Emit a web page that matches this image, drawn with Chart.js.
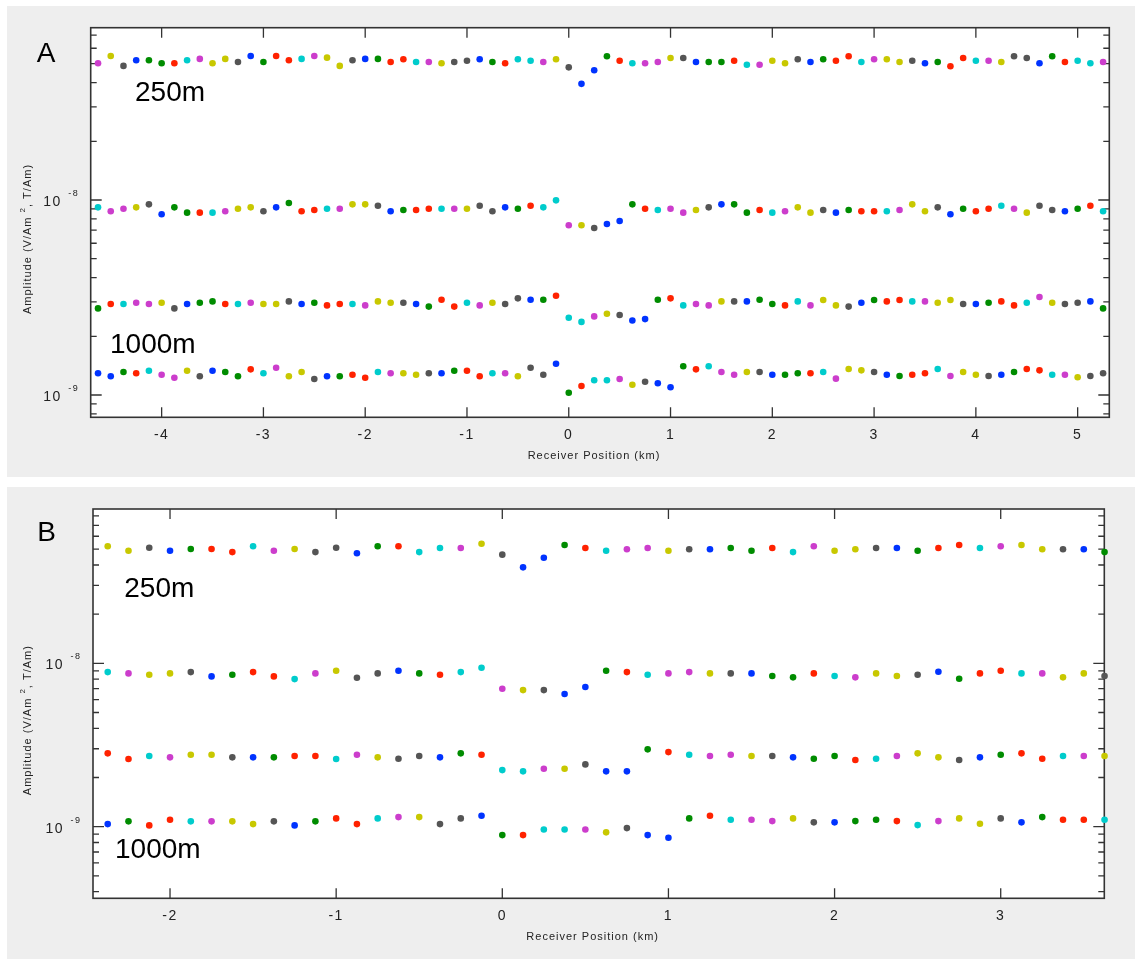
<!DOCTYPE html>
<html>
<head>
<meta charset="utf-8">
<script src="https://cdn.jsdelivr.net/npm/chart.js@4.4.0/dist/chart.umd.min.js"></script>
<style>
  body { margin: 0; background: #fff; width: 1135px; height: 959px; position: relative; overflow: hidden; }
  .panel { position: absolute; left: 7px; width: 1128px; background: #eeeeee; }
  #panelA { top: 6px; height: 471px; }
  #panelB { top: 487px; height: 472px; }
  .panel canvas { position: absolute; left: 0; top: 0; }
</style>
</head>
<body>
<div class="panel" id="panelA"><canvas id="chartA" width="1128" height="471"></canvas></div>
<div class="panel" id="panelB"><canvas id="chartB" width="1128" height="472"></canvas></div>
<script>
// amplitudes are in units of 1e-9 (V/Am^2, T/Am)
const UNIT = 1e-9;

// receiver positions (km)
const posA = [-4.625,-4.5,-4.375,-4.25,-4.125,-4,-3.875,-3.75,-3.625,-3.5,-3.375,-3.25,-3.125,-3,-2.875,-2.75,-2.625,-2.5,-2.375,-2.25,
  -2.125,-2,-1.875,-1.75,-1.625,-1.5,-1.375,-1.25,-1.125,-1,-0.875,-0.75,-0.625,-0.5,-0.375,-0.25,-0.125,0,0.125,0.25,
  0.375,0.5,0.625,0.75,0.875,1,1.125,1.25,1.375,1.5,1.625,1.75,1.875,2,2.125,2.25,2.375,2.5,2.625,2.75,
  2.875,3,3.125,3.25,3.375,3.5,3.625,3.75,3.875,4,4.125,4.25,4.375,4.5,4.625,4.75,4.875,5,5.125,5.25];
const posB = [-2.375,-2.25,-2.125,-2,-1.875,-1.75,-1.625,-1.5,-1.375,-1.25,-1.125,-1,-0.875,-0.75,-0.625,-0.5,-0.375,-0.25,-0.125,0,
  0.125,0.25,0.375,0.5,0.625,0.75,0.875,1,1.125,1.25,1.375,1.5,1.625,1.75,1.875,2,2.125,2.25,2.375,2.5,
  2.625,2.75,2.875,3,3.125,3.25,3.375,3.5,3.625];

// panel A rows, top to bottom
const ampA1 = [50.3,54.8,48.7,52.1,52.1,50.3,50.3,52.1,52.9,50.3,52.9,51.0,54.8,51.0,54.8,52.1,52.9,54.8,53.7,48.7,52.1,52.9,52.9,51.0,
  52.7,51.0,51.0,50.3,51.0,51.8,52.7,51.0,50.3,52.7,51.8,51.0,52.7,47.9,39.4,46.3,54.6,51.8,50.3,50.3,51.0,53.5,53.5,51.0,51.0,51.0,51.8,49.4,49.4,51.8,
  50.3,52.7,51.0,52.7,51.8,54.6,51.0,52.7,52.7,51.0,51.8,50.3,51.0,48.5,53.5,51.8,51.8,51.0,54.6,53.5,50.3,54.6,51.0,51.8,50.3,51.0];
const ampA2 = [9.17,8.75,9.02,9.17,9.50,8.45,9.17,8.61,8.61,8.61,8.75,9.02,9.17,8.75,9.17,9.65,8.75,8.89,9.02,9.02,9.50,9.50,9.35,8.75,
  8.89,8.89,9.02,9.02,9.02,9.02,9.35,8.75,9.17,9.02,9.35,9.17,9.96,7.42,7.42,7.18,7.53,7.81,9.50,9.02,8.89,9.02,8.61,8.89,9.17,9.50,9.50,8.61,8.89,8.61,
  8.75,9.17,8.61,8.89,8.61,8.89,8.75,8.75,8.75,8.89,9.50,8.75,9.17,8.45,9.02,8.75,9.02,9.35,9.02,8.61,9.35,8.89,8.75,9.02,9.35,8.75];
const ampA3 = [2.78,2.93,2.93,2.97,2.93,2.97,2.78,2.93,2.97,3.02,2.93,2.93,2.97,2.93,2.93,3.02,2.93,2.97,2.88,2.93,2.93,2.88,3.02,2.97,
  2.97,2.93,2.84,3.08,2.84,2.97,2.88,2.97,2.93,3.13,3.08,3.08,3.23,2.49,2.37,2.53,2.61,2.57,2.41,2.45,3.08,3.13,2.88,2.93,2.88,3.02,3.02,3.02,3.08,2.93,
  2.88,3.02,2.88,3.07,2.88,2.84,2.97,3.07,3.02,3.07,3.02,3.02,2.97,3.07,2.93,2.93,2.97,3.02,2.88,2.97,3.18,2.97,2.93,2.97,3.02,2.78];
const ampA4 = [1.292,1.247,1.312,1.292,1.332,1.271,1.227,1.332,1.247,1.332,1.312,1.247,1.354,1.292,1.380,1.247,1.312,1.208,1.247,1.247,1.271,1.227,1.312,1.292,
  1.292,1.271,1.292,1.292,1.332,1.332,1.247,1.292,1.292,1.247,1.380,1.271,1.447,1.027,1.112,1.190,1.190,1.208,1.129,1.170,1.148,1.095,1.403,1.354,1.403,1.312,1.271,1.312,1.312,1.271,
  1.271,1.292,1.292,1.312,1.213,1.359,1.338,1.312,1.271,1.252,1.271,1.292,1.359,1.252,1.312,1.271,1.252,1.271,1.312,1.359,1.338,1.271,1.271,1.233,1.252,1.292];

// panel B rows, top to bottom
const ampB1 = [52.1,48.9,51.0,48.9,50.1,50.1,48.0,52.1,48.9,50.1,48.0,51.0,47.2,52.1,52.1,48.0,50.8,50.8,54.0,46.3,
  38.7,44.3,53.0,50.8,48.9,49.9,50.8,48.9,49.9,49.9,50.8,48.9,50.8,48.0,52.1,48.9,49.9,50.8,50.8,48.9,
  50.8,53.0,50.8,52.1,53.0,49.9,49.9,49.9,48.0];
const ampB2 = [8.84,8.68,8.51,8.68,8.84,8.32,8.51,8.84,8.32,8.01,8.68,9.01,8.16,8.68,9.01,8.68,8.51,8.84,9.40,6.99,
  6.86,6.86,6.49,7.16,9.01,8.84,8.51,8.68,8.84,8.68,8.68,8.68,8.36,8.21,8.68,8.36,8.21,8.68,8.36,8.51,
  8.88,8.05,8.68,9.01,8.68,8.68,8.21,8.68,8.36];
const ampB3 = [2.811,2.594,2.706,2.657,2.756,2.756,2.657,2.657,2.657,2.706,2.706,2.594,2.756,2.657,2.605,2.706,2.657,2.811,2.756,2.221,
  2.181,2.262,2.262,2.407,2.181,2.181,2.974,2.862,2.756,2.706,2.756,2.706,2.706,2.657,2.605,2.706,2.558,2.605,2.706,2.811,
  2.657,2.558,2.657,2.756,2.811,2.605,2.706,2.706,2.706];
const ampB4 = [1.037,1.078,1.018,1.103,1.078,1.078,1.078,1.037,1.078,1.018,1.078,1.124,1.037,1.124,1.145,1.145,1.037,1.124,1.166,0.888,
  0.888,0.962,0.962,0.962,0.923,0.980,0.888,0.855,1.124,1.166,1.103,1.103,1.082,1.124,1.063,1.063,1.082,1.103,1.082,1.023,
  1.082,1.124,1.042,1.124,1.063,1.145,1.103,1.103,1.103];

// tick labels
const xTicksA = [-4, -3, -2, -1, 0, 1, 2, 3, 4, 5];
const xTicksB = [-2, -1, 0, 1, 2, 3];
const yLabelsA = [1e-9, 1e-8];
const yLabelsB = [1e-9, 1e-8];

// marker colour per point (R red, G green, B blue, K grey, C cyan, M magenta, Y yellow)
const COLORS = { R: '#ff2200', G: '#008c00', B: '#0033ff', K: '#555555', C: '#00cccc', M: '#cc3dcc', Y: '#c8c800' };
const colA1 = 'MYKBGGRCMYYKBGRRCMYYKBGR' + 'RCMYKKBGRCCMYKBBGRCMMYKBGGRCMY' + 'YKBGRRCMYYKBGRRCMYKKBGRCCM';
const colA2 = 'CMMYKBGGRCMYYKBGRRCMYYKB' + 'GRRCMYKKBGRCCMYKBBGRCMMYKBGGRC' + 'MYYKBGRRCMYYKBGRRCMYKKBGRC';
const colA3 = 'GRCMMYKBGGRCMYYKBGRRCMYY' + 'KBGRRCMYKKBGRCCMYKBBGRCMMYKBGG' + 'RCMYYKBGRRCMYYKBGRRCMYKKBG';
const colA4 = 'BBGRCMMYKBGGRCMYYKBGRRCM' + 'YYKBGRRCMYKKBGRCCMYKBBGRCMMYKB' + 'GGRCMYYKBGRRCMYYKBGRRCMYKK';
const colB1 = 'YYKBGRRCMYKKBGR' + 'CCMYKBBGRCMMYKBGGR' + 'CMYYKBGRRCMYYKBG';
const colB2 = 'CMYYKBGRRCMYKK' + 'BGRCCMYKBBGRCMMYKBG' + 'GRCMYYKBGRRCMYYK';
const colB3 = 'RRCMYYKBGRRCMY' + 'KKBGRCCMYKBBGRCMMYK' + 'BGGRCMYYKBGRRCMY';
const colB4 = 'BGRRCMYYKBGRRC' + 'MYKKBGRCCMYKBBGRCMM' + 'YKBGGRCMYYKBGRRC';

const FONT = '"Liberation Sans", Arial, sans-serif';

function rowDataset(pos, vals, codes) {
  return {
    data: pos.map((x, i) => ({ x: x, y: vals[i] * UNIT })),
    pointBackgroundColor: codes.split('').map(c => COLORS[c]),
    pointBorderWidth: 0,
    pointRadius: 3.3,
    showLine: false,
    clip: false
  };
}

// minor + major tick values for a log axis
function logTicks(min, max) {
  const out = [];
  for (let e = Math.floor(Math.log10(min)); e <= Math.ceil(Math.log10(max)); e++) {
    for (let m = 1; m <= 9; m++) {
      const v = m * Math.pow(10, e);
      if (v >= min && v <= max) out.push({ v: v, major: m === 1 });
    }
  }
  return out;
}

// frame, inward ticks, labels and titles (drawn under the dots)
const framePlugin = {
  id: 'frame',
  beforeDatasetsDraw(chart, args, opts) {
    const ctx = chart.ctx;
    const a = chart.chartArea;
    const xs = chart.scales.x, ys = chart.scales.y;
    ctx.save();
    ctx.fillStyle = '#fff';
    ctx.fillRect(a.left, a.top, a.right - a.left, a.bottom - a.top);

    ctx.strokeStyle = '#333';
    ctx.lineWidth = 1.3;
    ctx.beginPath();
    logTicks(ys.min, ys.max).forEach(t => {
      const py = ys.getPixelForValue(t.v);
      const len = t.major ? 11 : 6;
      ctx.moveTo(a.left, py); ctx.lineTo(a.left + len, py);
      ctx.moveTo(a.right, py); ctx.lineTo(a.right - len, py);
    });
    opts.xTicks.forEach(v => {
      const px = xs.getPixelForValue(v);
      ctx.moveTo(px, a.bottom); ctx.lineTo(px, a.bottom - 10);
      ctx.moveTo(px, a.top); ctx.lineTo(px, a.top + 10);
    });
    ctx.stroke();
    ctx.lineWidth = 1.6;
    ctx.strokeRect(a.left, a.top, a.right - a.left, a.bottom - a.top);

    // tick labels
    ctx.fillStyle = '#222';
    ctx.letterSpacing = '1.5px';
    ctx.font = '14px ' + FONT;
    ctx.textAlign = 'center';
    ctx.textBaseline = 'alphabetic';
    opts.xTicks.forEach(v => {
      ctx.fillText(String(v), xs.getPixelForValue(v), a.bottom + 21.5);
    });
    opts.yLabels.forEach(v => {
      const py = ys.getPixelForValue(v);
      const e = Math.round(Math.log10(v));
      ctx.font = '14px ' + FONT;
      ctx.textAlign = 'right';
      ctx.fillText('10', a.left - 29, py + 6);
      ctx.font = '9px ' + FONT;
      ctx.textAlign = 'left';
      ctx.fillText(String(e), a.left - 22.5, py - 4);
    });

    // axis titles
    ctx.letterSpacing = '1px';
    ctx.font = '11px ' + FONT;
    ctx.textAlign = 'center';
    ctx.fillText('Receiver Position (km)', (a.left + a.right) / 2 - 6, a.bottom + 42);

    ctx.save();
    ctx.translate(21, (a.top + a.bottom) / 2 + 16.5);
    ctx.rotate(-Math.PI / 2);
    ctx.textAlign = 'left';
    ctx.textBaseline = 'middle';
    const p1 = 'Amplitude (V/Am ', p2 = '2', p3 = ', T/Am)';
    ctx.font = '11px ' + FONT;
    const w1 = ctx.measureText(p1).width, w3 = ctx.measureText(p3).width;
    ctx.font = '8px ' + FONT;
    const w2 = ctx.measureText(p2).width;
    let x0 = -(w1 + w2 + w3) / 2;
    ctx.font = '11px ' + FONT;
    ctx.fillText(p1, x0, 0);
    ctx.font = '8px ' + FONT;
    ctx.fillText(p2, x0 + w1, -5);
    ctx.font = '11px ' + FONT;
    ctx.fillText(p3, x0 + w1 + w2, 0);
    ctx.restore();

    // panel letter and offset labels
    ctx.letterSpacing = '0px';
    ctx.fillStyle = '#000';
    ctx.textAlign = 'left';
    ctx.textBaseline = 'alphabetic';
    ctx.font = '28px ' + FONT;
    opts.notes.forEach(n => ctx.fillText(n.text, n.x, n.y));
    ctx.restore();
  }
};

function makeChart(id, datasets, xr, yr, pad, extra) {
  return new Chart(document.getElementById(id), {
    type: 'scatter',
    data: { datasets: datasets },
    options: {
      responsive: false,
      animation: false,
      devicePixelRatio: 1,
      events: [],
      layout: { padding: pad },
      plugins: { legend: { display: false }, tooltip: { enabled: false }, frame: extra },
      scales: {
        x: { type: 'linear', display: false, min: xr[0], max: xr[1] },
        y: { type: 'logarithmic', display: false, min: yr[0], max: yr[1] }
      }
    },
    plugins: [framePlugin]
  });
}

makeChart('chartA',
  [rowDataset(posA, ampA1, colA1), rowDataset(posA, ampA2, colA2), rowDataset(posA, ampA3, colA3), rowDataset(posA, ampA4, colA4)],
  [-4.697, 5.311], [7.685e-10, 7.648e-8],
  { left: 83.7, top: 21.7, right: 25.7, bottom: 59.7 },
  { xTicks: xTicksA, yLabels: yLabelsA,
    notes: [{ text: 'A', x: 29.7, y: 55.7 }, { text: '250m', x: 128, y: 94.7 }, { text: '1000m', x: 103, y: 347.3 }] });

makeChart('chartB',
  [rowDataset(posB, ampB1, colB1), rowDataset(posB, ampB2, colB2), rowDataset(posB, ampB3, colB3), rowDataset(posB, ampB4, colB4)],
  [-2.4636, 3.6235], [3.644e-10, 8.81e-8],
  { left: 86, top: 22, right: 30.7, bottom: 60.7 },
  { xTicks: xTicksB, yLabels: yLabelsB,
    notes: [{ text: 'B', x: 30.3, y: 54 }, { text: '250m', x: 117.3, y: 109.7 }, { text: '1000m', x: 108, y: 371.3 }] });
</script>
</body>
</html>
